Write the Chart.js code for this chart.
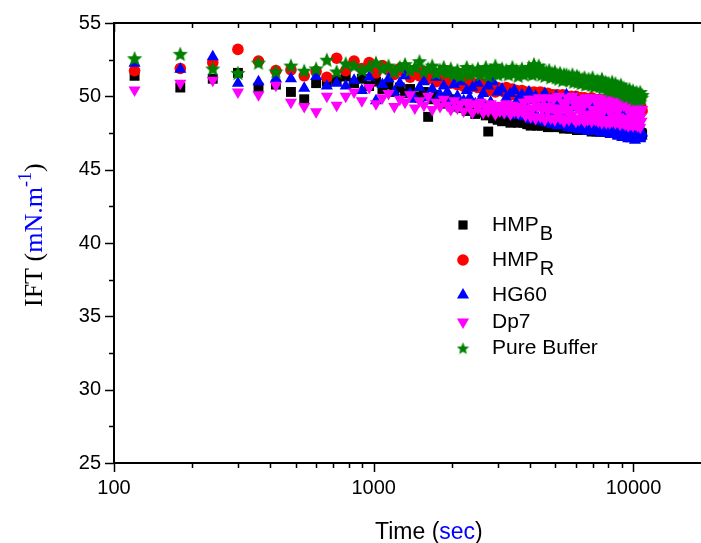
<!DOCTYPE html>
<html>
<head>
<meta charset="utf-8">
<script src="https://cdn.jsdelivr.net/npm/chart.js@4.4.1/dist/chart.umd.min.js"></script>
<style>
    body { margin: 0; background: #fff; overflow: hidden; }
    #grafico { display: block; }
</style>
</head>
<body>
<canvas id="grafico" width="701" height="543"></canvas>
<script>
// tempo (s) - leitura a cada 60 s
var tempos = [
    120, 180, 240, 300, 360, 420, 480, 540, 600, 660,
    720, 780, 840, 900, 960, 1020, 1080, 1140, 1200, 1260,
    1320, 1380, 1440, 1500, 1560, 1620, 1680, 1740, 1800, 1860,
    1920, 1980, 2040, 2100, 2160, 2220, 2280, 2340, 2400, 2460,
    2520, 2580, 2640, 2700, 2760, 2820, 2880, 2940, 3000, 3060,
    3120, 3180, 3240, 3300, 3360, 3420, 3480, 3540, 3600, 3660,
    3720, 3780, 3840, 3900, 3960, 4020, 4080, 4140, 4200, 4260,
    4320, 4380, 4440, 4500, 4560, 4620, 4680, 4740, 4800, 4860,
    4920, 4980, 5040, 5100, 5160, 5220, 5280, 5340, 5400, 5460,
    5520, 5580, 5640, 5700, 5760, 5820, 5880, 5940, 6000, 6060,
    6120, 6180, 6240, 6300, 6360, 6420, 6480, 6540, 6600, 6660,
    6720, 6780, 6840, 6900, 6960, 7020, 7080, 7140, 7200, 7260,
    7320, 7380, 7440, 7500, 7560, 7620, 7680, 7740, 7800, 7860,
    7920, 7980, 8040, 8100, 8160, 8220, 8280, 8340, 8400, 8460,
    8520, 8580, 8640, 8700, 8760, 8820, 8880, 8940, 9000, 9060,
    9120, 9180, 9240, 9300, 9360, 9420, 9480, 9540, 9600, 9660,
    9720, 9780, 9840, 9900, 9960, 10020, 10080, 10140, 10200, 10260,
    10320, 10380, 10440, 10500, 10560, 10620, 10680, 10740, 10800
];

var hmpB = [
    51.4, 50.6, 51.2, 51.6, 50.6, 50.8, 50.3, 49.8, 50.9, 51.0,
    51.1, 51.35, 50.9, 51.2, 50.7, 51.0, 50.5, 50.8, 50.3, 50.6,
    50.2, 50.5, 50.0, 49.9, 50.3, 48.6, 49.8, 50.1, 49.6, 49.9,
    49.5, 49.8, 49.3, 49.6, 49.2, 49.5, 49.0, 49.4, 49.1, 48.8,
    49.2, 48.9, 49.0, 48.7, 47.6, 48.9, 48.5, 48.8, 48.4, 48.6,
    48.3, 48.6, 48.4, 48.7, 48.2, 48.5, 48.3, 48.6, 48.2, 48.4,
    48.5, 48.2, 48.4, 48.1, 48.3, 48.0, 48.4, 48.2, 48.3, 48.0,
    48.2, 48.3, 48.0, 48.2, 48.1, 48.3, 47.9, 48.2, 48.0, 48.1,
    48.2, 47.9, 48.1, 48.0, 48.2, 47.9, 48.0, 48.1, 47.8, 48.0,
    48.1, 47.9, 48.0, 47.8, 48.1, 47.9, 47.8, 48.0, 47.9, 47.7,
    48.0, 47.8, 47.9, 47.7, 48.0, 47.8, 47.9, 47.7, 47.8, 47.9,
    47.7, 47.9, 47.8, 47.6, 47.8, 47.9, 47.7, 47.8, 47.6, 47.8,
    47.7, 47.8, 47.6, 47.7, 47.9, 47.6, 47.7, 47.8, 47.6, 47.7,
    47.6, 47.8, 47.7, 47.5, 47.7, 47.6, 47.8, 47.5, 47.7, 47.6,
    47.5, 47.7, 47.6, 47.4, 47.6, 47.7, 47.5, 47.6, 47.4, 47.6,
    47.5, 47.6, 47.4, 47.5, 47.7, 47.4, 47.5, 47.6, 47.4, 47.5,
    47.6, 47.4, 47.5, 47.3, 47.5, 47.6, 47.4, 47.5, 47.3, 47.5,
    47.4, 47.5, 47.3, 47.4, 47.6, 47.4, 47.3, 47.5, 47.4
];

var hmpR = [
    51.75, 51.9, 52.3, 53.2, 52.4, 51.75, 51.8, 51.4, 51.7, 51.3,
    52.6, 51.75, 52.4, 51.9, 52.3, 51.6, 52.1, 51.8, 51.5, 51.9,
    51.6, 51.3, 51.8, 51.4, 51.7, 51.2, 51.5, 51.0, 51.4, 51.1,
    51.3, 50.9, 51.2, 50.8, 51.1, 50.7, 51.0, 50.6, 50.9, 50.8,
    50.6, 50.9, 50.5, 50.8, 50.4, 50.7, 50.6, 50.3, 50.6, 50.4,
    50.5, 50.3, 50.6, 50.2, 50.4, 50.5, 50.1, 50.4, 50.3, 50.2,
    50.4, 50.2, 50.3, 50.1, 50.3, 50.2, 50.0, 50.3, 50.1, 50.2,
    50.1, 50.3, 50.0, 50.2, 50.1, 49.9, 50.2, 50.0, 50.1, 49.9,
    50.1, 50.0, 49.9, 50.1, 49.8, 50.0, 49.9, 50.1, 49.8, 50.0,
    49.9, 50.0, 49.8, 49.9, 50.0, 49.7, 49.9, 49.8, 50.0, 49.8,
    49.9, 49.7, 49.8, 49.9, 49.7, 49.8, 49.9, 49.6, 49.8, 49.7,
    49.8, 49.6, 49.7, 49.9, 49.6, 49.7, 49.8, 49.6, 49.7, 49.5,
    49.7, 49.6, 49.8, 49.5, 49.7, 49.6, 49.5, 49.7, 49.6, 49.8,
    49.5, 49.6, 49.7, 49.5, 49.6, 49.4, 49.6, 49.7, 49.5, 49.6,
    49.4, 49.6, 49.5, 49.3, 49.5, 49.6, 49.4, 49.5, 49.3, 49.5,
    49.4, 49.3, 49.5, 49.4, 49.2, 49.4, 49.5, 49.3, 49.4, 49.2,
    49.3, 49.4, 49.2, 49.3, 49.1, 49.3, 49.4, 49.2, 49.1, 49.3,
    49.2, 49.0, 49.2, 49.1, 49.3, 49.0, 49.1, 49.2, 49.0
];

var hg60 = [
    52.25, 51.85, 52.7, 50.9, 51.0, 51.2, 51.2, 50.55, 51.35, 50.7,
    50.9, 50.7, 51.1, 50.4, 51.3, 49.7, 50.8, 51.2, 50.3, 50.9,
    51.4, 50.2, 49.8, 50.6, 51.0, 49.9, 50.5, 51.3, 50.1, 50.7,
    50.3, 49.6, 50.8, 50.0, 51.0, 49.7, 50.4, 49.9, 50.6, 49.5,
    50.9, 49.8, 50.2, 49.3, 50.7, 49.6, 51.0, 49.1, 50.3, 48.9,
    50.5, 49.4, 49.9, 48.8, 50.2, 49.2, 50.4, 48.7, 49.8, 49.3,
    50.1, 48.6, 49.5, 48.9, 50.3, 48.4, 49.7, 49.0, 50.0, 48.5,
    49.6, 48.3, 49.9, 48.7, 50.2, 48.2, 49.3, 48.9, 49.8, 48.1,
    49.5, 48.4, 50.0, 48.0, 49.2, 48.6, 49.7, 48.1, 49.4, 48.5,
    50.1, 47.9, 49.0, 48.3, 49.6, 47.8, 49.3, 48.4, 49.9, 48.0,
    49.2, 47.7, 49.5, 48.2, 48.8, 47.9, 49.7, 48.1, 49.0, 47.6,
    49.4, 48.0, 48.7, 47.7, 49.6, 47.8, 48.9, 48.2, 49.3, 47.6,
    48.6, 47.9, 49.5, 47.5, 48.8, 48.1, 49.1, 47.6, 48.5, 47.8,
    49.2, 47.5, 48.4, 47.9, 49.0, 47.4, 48.7, 47.7, 49.3, 47.5,
    48.3, 47.6, 48.9, 47.3, 48.5, 47.8, 49.1, 47.4, 48.2, 47.2,
    48.8, 47.5, 48.1, 47.2, 48.6, 47.6, 48.9, 47.1, 48.3, 47.3,
    48.0, 47.1, 48.7, 47.4, 48.2, 47.2, 48.5, 47.0, 47.9, 47.3,
    48.4, 47.2, 47.8, 47.4, 48.6, 47.1, 47.6, 47.3, 47.5
];

var dp7 = [
    50.43, 50.9, 51.1, 50.3, 50.1, 50.75, 49.6, 49.3, 48.95, 50.0,
    49.4, 50.0, 50.3, 49.7, 50.6, 49.5, 49.9, 50.2, 49.3, 49.8,
    49.6, 50.1, 49.2, 49.7, 49.4, 50.0, 49.1, 49.6, 49.3, 49.8,
    49.4, 49.1, 49.7, 49.2, 49.5, 49.0, 49.6, 49.3, 48.9, 49.5,
    49.2, 49.6, 48.9, 49.3, 49.0, 49.5, 49.1, 48.8, 49.4, 49.0,
    49.3, 48.9, 49.5, 49.1, 48.8, 49.4, 49.0, 49.3, 48.9, 49.2,
    49.0, 49.6, 48.7, 49.2, 49.8, 48.6, 49.1, 49.7, 48.5, 49.3,
    49.9, 48.6, 49.1, 49.8, 48.4, 49.3, 49.0, 49.9, 48.5, 49.2,
    49.8, 48.4, 49.2, 48.8, 50.0, 48.5, 49.1, 49.6, 48.3, 49.4,
    49.0, 49.9, 48.4, 49.1, 48.7, 50.0, 48.5, 49.5, 48.3, 49.2,
    49.8, 48.4, 49.0, 49.7, 48.5, 49.3, 48.3, 49.9, 48.8, 48.4,
    49.6, 48.5, 49.9, 48.3, 49.1, 48.7, 49.8, 48.4, 49.0, 49.5,
    48.3, 49.2, 48.6, 49.9, 48.2, 48.9, 49.6, 48.4, 49.3, 48.2,
    49.7, 48.4, 49.4, 48.2, 48.9, 49.8, 48.3, 49.2, 48.5, 49.6,
    48.2, 49.5, 48.3, 49.0, 48.6, 49.8, 48.1, 49.3, 48.4, 49.6,
    48.2, 49.4, 48.5, 48.1, 49.7, 48.3, 49.1, 48.0, 49.5, 48.3,
    49.2, 48.1, 48.8, 49.6, 48.0, 49.0, 48.4, 49.4, 48.1, 48.9,
    48.5, 48.0, 49.3, 48.2, 49.0, 47.9, 48.6, 48.3, 49.1
];

var pureBuffer = [
    52.6, 52.9, 51.9, 51.6, 52.3, 51.7, 52.1, 51.75, 51.9, 52.5,
    51.7, 52.25, 52.1, 51.8, 52.0, 52.3, 51.9, 52.1, 51.7, 52.0,
    52.2, 51.8, 52.0, 52.4, 51.7, 51.9, 52.1, 51.6, 51.8, 52.0,
    51.6, 51.9, 51.5, 51.8, 51.4, 51.7, 52.0, 51.5, 51.8, 51.6,
    51.9, 51.5, 51.7, 52.0, 51.4, 51.8, 51.6, 52.1, 51.5, 51.7,
    51.9, 51.6, 51.8, 51.5, 51.7, 52.0, 51.6, 51.8, 51.4, 51.7,
    51.9, 51.5, 51.7, 51.6, 52.0, 51.8, 51.5, 52.2, 51.6, 51.9,
    52.1, 51.7, 51.5, 51.8, 51.4, 51.7, 51.5, 51.8, 51.3, 51.6,
    51.4, 51.7, 51.3, 51.5, 51.2, 51.6, 51.4, 51.1, 51.5, 51.3,
    51.5, 51.2, 51.4, 51.1, 51.3, 51.5, 51.0, 51.3, 51.1, 51.4,
    51.0, 51.3, 51.1, 50.9, 51.2, 51.0, 51.3, 50.8, 51.1, 50.9,
    51.2, 50.9, 51.1, 50.8, 51.3, 50.9, 50.7, 51.0, 50.8, 51.1,
    50.8, 51.0, 50.7, 50.9, 51.2, 50.6, 50.9, 50.7, 51.0, 50.6,
    50.8, 50.5, 50.9, 50.7, 50.4, 50.8, 51.0, 50.5, 50.7, 50.4,
    50.9, 50.6, 50.4, 50.7, 50.3, 50.6, 50.5, 50.8, 50.3, 50.5,
    50.2, 50.6, 50.4, 50.1, 50.5, 50.3, 50.0, 50.4, 50.2, 50.5,
    50.1, 50.3, 49.9, 50.2, 50.4, 50.0, 50.2, 49.8, 50.1, 50.3,
    50.0, 50.2, 49.8, 50.1, 49.9, 50.3, 50.0, 49.9, 50.1
];

var ticksX = [100, 1000, 10000];
var ticksY = [25, 30, 35, 40, 45, 50, 55];

// estrela cheia (o 'star' do Chart.js e so contorno)
function criarEstrela(tamanho, cor) {
    var c = document.createElement('canvas');
    c.width = tamanho;
    c.height = tamanho;
    var ctx = c.getContext('2d');
    var r1 = tamanho / 2, r2 = tamanho / 2 * 0.45;
    ctx.fillStyle = cor;
    ctx.beginPath();
    for (var i = 0; i < 10; i++) {
        var r = i % 2 == 0 ? r1 : r2;
        var a = -Math.PI / 2 + i * Math.PI / 5;
        var px = r1 + r * Math.cos(a), py = r1 + 0.8 + r * Math.sin(a);
        if (i == 0) ctx.moveTo(px, py); else ctx.lineTo(px, py);
    }
    ctx.closePath();
    ctx.fill();
    return c;
}

var estrela = criarEstrela(16, '#008000');
var estrelaLegenda = criarEstrela(13, '#008000');

function serie(nome, valores, cor, estilo, raio, rotacao, ordem) {
    return {
        label: nome,
        data: tempos.map(function (t, i) { return { x: t, y: valores[i] }; }),
        backgroundColor: cor,
        borderColor: cor,
        borderWidth: 0,
        pointStyle: estilo,
        pointRadius: raio,
        pointRotation: rotacao,
        showLine: false,
        order: ordem
    };
}

var itensLegenda = [
    { nome: 'HMP', sub: 'B', cor: '#000000', estilo: 'rect', raio: 6.5, rot: 0, y: 225 },
    { nome: 'HMP', sub: 'R', cor: '#ff0000', estilo: 'circle', raio: 5.8, rot: 0, y: 260 },
    { nome: 'HG60', sub: '', cor: '#0000ff', estilo: 'triangle', raio: 7, rot: 0, y: 295 },
    { nome: 'Dp7', sub: '', cor: '#ff00ff', estilo: 'triangle', raio: 7, rot: 180, y: 322 },
    { nome: 'Pure Buffer', sub: '', cor: '#008000', estilo: estrelaLegenda, raio: 6, rot: 0, y: 348 }
];

const desenhoEixos = {
    id: 'desenhoEixos',
    afterDraw: function (chart) {
        var ctx = chart.ctx;
        var area = chart.chartArea;
        var sx = chart.scales.x, sy = chart.scales.y;
        ctx.save();
        ctx.strokeStyle = '#000';
        ctx.fillStyle = '#000';

        // linhas dos eixos
        ctx.lineWidth = 2;
        ctx.beginPath();
        ctx.moveTo(area.left, area.top);
        ctx.lineTo(area.left, area.bottom);
        ctx.moveTo(area.left - 1, area.bottom);
        ctx.lineTo(area.right, area.bottom);
        ctx.moveTo(area.left - 1, area.top);
        ctx.lineTo(area.right, area.top);
        ctx.stroke();

        // marcas do eixo x (maiores e menores)
        ctx.lineWidth = 1.5;
        ctx.beginPath();
        for (var d = 100; d <= 10000; d *= 10) {
            for (var k = 1; k <= 9; k++) {
                var v = d * k;
                if (v > sx.max) break;
                var px = Math.round(sx.getPixelForValue(v)) + 0.5;
                var len = k == 1 ? 9 : 5;
                ctx.moveTo(px, area.bottom);
                ctx.lineTo(px, area.bottom + len);
                ctx.moveTo(px, area.top);
                ctx.lineTo(px, area.top + len);
            }
        }
        // marcas do eixo y
        for (var yv = 25; yv <= 55; yv += 2.5) {
            var py = Math.round(sy.getPixelForValue(yv)) + 0.5;
            var leny = yv % 5 == 0 ? 9 : 5;
            ctx.moveTo(area.left, py);
            ctx.lineTo(area.left - leny, py);
        }
        ctx.stroke();

        // rotulos
        ctx.font = '20px "Liberation Sans", Arial, sans-serif';
        ctx.textAlign = 'center';
        ctx.textBaseline = 'middle';
        ticksX.forEach(function (v) {
            ctx.fillText(String(v), sx.getPixelForValue(v), 488);
        });
        ctx.textAlign = 'right';
        ticksY.forEach(function (v) {
            ctx.fillText(String(v), 101, sy.getPixelForValue(v));
        });

        // titulo do eixo x
        ctx.font = '23px "Liberation Sans", Arial, sans-serif';
        ctx.textAlign = 'left';
        ctx.textBaseline = 'alphabetic';
        var tx = 375, ty = 539;
        var partes = [['Time (', '#000'], ['sec', '#0000ff'], [')', '#000']];
        partes.forEach(function (p) {
            ctx.fillStyle = p[1];
            ctx.fillText(p[0], tx, ty);
            tx += ctx.measureText(p[0]).width;
        });

        // titulo do eixo y (girado)
        ctx.save();
        ctx.translate(42, 307);
        ctx.rotate(-Math.PI / 2);
        var ux = 0;
        var serif = '"Liberation Serif", "Times New Roman", serif';
        var partesY = [
            ['IFT (', '#000', '26px ' + serif, 0],
            ['mN.m', '#0000ff', '26px ' + serif, 0],
            ['-1', '#0000ff', '18px ' + serif, -11],
            [')', '#000', '26px ' + serif, 0]
        ];
        partesY.forEach(function (p) {
            ctx.font = p[2];
            ctx.fillStyle = p[1];
            ctx.fillText(p[0], ux, p[3]);
            ux += ctx.measureText(p[0]).width;
        });
        ctx.restore();

        // legenda
        itensLegenda.forEach(function (it) {
            ctx.fillStyle = it.cor;
            ctx.strokeStyle = it.cor;
            Chart.helpers.drawPoint(ctx, {
                pointStyle: it.estilo, radius: it.raio, rotation: it.rot, borderWidth: 0
            }, 463, it.y);
            ctx.fillStyle = '#000';
            ctx.font = '21px "Liberation Sans", Arial, sans-serif';
            ctx.textAlign = 'left';
            ctx.textBaseline = 'middle';
            ctx.fillText(it.nome, 492, it.y);
            if (it.sub) {
                var w = ctx.measureText(it.nome).width;
                ctx.font = '20px "Liberation Sans", Arial, sans-serif';
                ctx.fillText(it.sub, 492 + w + 1, it.y + 9);
            }
        });
        ctx.restore();
    }
};

function criarGrafico() {
    const dados = {
        datasets: [
            serie('HMPB', hmpB, '#000000', 'rect', 7, 0, 5),
            serie('HMPR', hmpR, '#ff0000', 'circle', 5.8, 0, 4),
            serie('HG60', hg60, '#0000ff', 'triangle', 7, 0, 3),
            serie('Dp7', dp7, '#ff00ff', 'triangle', 7, 180, 2),
            serie('Pure Buffer', pureBuffer, '#008000', estrela, 8, 0, 1)
        ]
    };

    const config = {
        type: 'scatter',
        data: dados,
        options: {
            responsive: false,
            animation: false,
            layout: {
                autoPadding: false,
                padding: { left: 114, right: 0, top: 23, bottom: 80 }
            },
            plugins: {
                legend: { display: false },
                tooltip: { enabled: false }
            },
            scales: {
                x: { type: 'logarithmic', min: 100, max: 18200, display: false },
                y: { type: 'linear', min: 25, max: 55, display: false }
            }
        },
        plugins: [desenhoEixos]
    };

    new Chart(document.getElementById('grafico'), config);
}

criarGrafico();
</script>
</body>
</html>
